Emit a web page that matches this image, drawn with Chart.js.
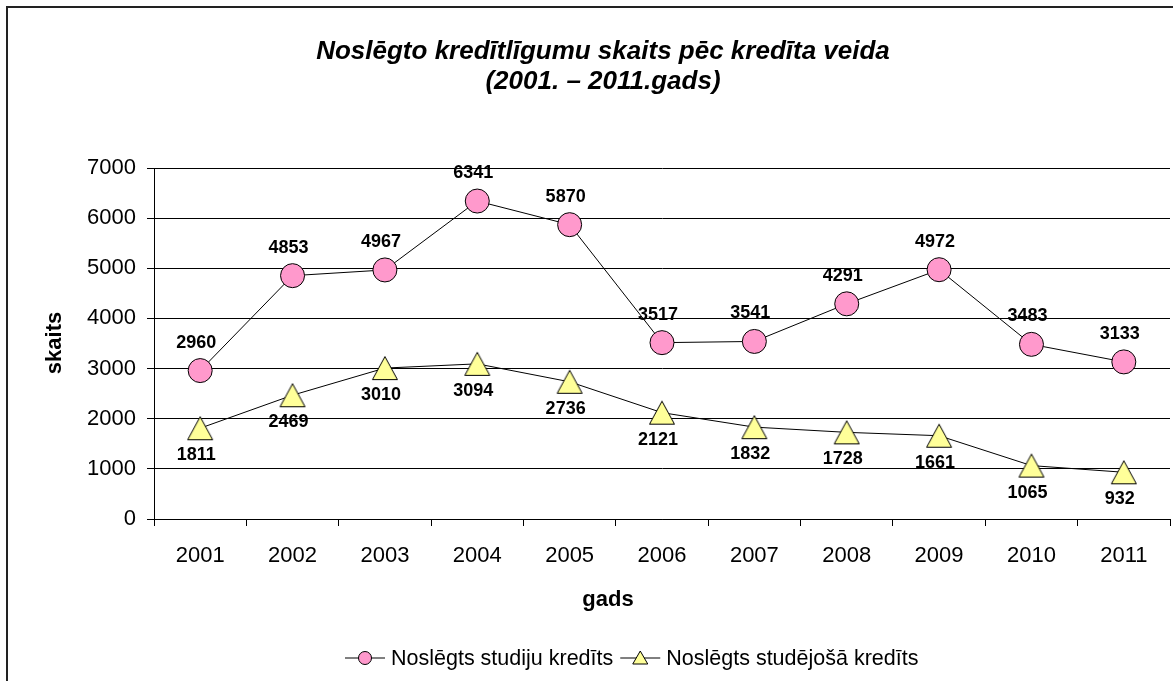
<!DOCTYPE html>
<html>
<head>
<meta charset="utf-8">
<script src="https://cdn.jsdelivr.net/npm/chart.js@4.4.1/dist/chart.umd.min.js"></script>
<style>
html,body{margin:0;padding:0;background:#fff;overflow:hidden}
#wrap{width:1173px;height:681px;position:relative}
</style>
</head>
<body>
<div id="wrap"><canvas id="c" width="1173" height="681"></canvas></div>
<script>
// ---- data ----
const years = ['2001','2002','2003','2004','2005','2006','2007','2008','2009','2010','2011'];
const studijuKredits = [2960, 4853, 4967, 6341, 5870, 3517, 3541, 4291, 4972, 3483, 3133];
const studejosaKredits = [1811, 2469, 3010, 3094, 2736, 2121, 1832, 1728, 1661, 1065, 932];
const yTickValues = [0, 1000, 2000, 3000, 4000, 5000, 6000, 7000];
const seriesNames = ['Noslēgts studiju kredīts', 'Noslēgts studējošā kredīts'];
const titleLines = ['Noslēgto kredītlīgumu skaits pēc kredīta veida', '(2001. – 2011.gads)'];
const xTitle = 'gads';
const yTitle = 'skaits';

// ---- styles ----
const FONT = "'Liberation Sans', Arial, Helvetica, sans-serif";
const PINK = '#FF99CC';
const YELLOW = '#FFFF99';

function makeTriangle(w, h) {
  const pad = 1.5;
  const c = document.createElement('canvas');
  c.width = Math.ceil(w + 2 * pad);
  c.height = Math.ceil(h + 2 * pad);
  const g = c.getContext('2d');
  g.beginPath();
  g.moveTo(c.width / 2, pad);
  g.lineTo(c.width - pad, c.height - pad);
  g.lineTo(pad, c.height - pad);
  g.closePath();
  g.fillStyle = YELLOW;
  g.fill();
  g.strokeStyle = '#000';
  g.lineWidth = 1;
  g.stroke();
  return c;
}
const bigTriangle = makeTriangle(25, 23);

const decorations = {
  id: 'decorations',
  beforeDraw(chart) {
    const ctx = chart.ctx;
    ctx.save();
    ctx.fillStyle = '#fff';
    ctx.fillRect(0, 0, chart.width, chart.height);
    ctx.strokeStyle = '#222';
    ctx.lineWidth = 2;
    ctx.beginPath();
    ctx.moveTo(7, chart.height + 5);
    ctx.lineTo(7, 7);
    ctx.lineTo(chart.width + 5, 7);
    ctx.stroke();
    ctx.restore();
  },
  afterDraw(chart) {
    const ctx = chart.ctx;
    ctx.save();
    ctx.fillStyle = '#000';
    ctx.font = "italic bold 26px " + FONT;
    ctx.textAlign = 'center';
    ctx.textBaseline = 'middle';
    ctx.fillText(titleLines[0], 603, 52);
    ctx.fillText(titleLines[1], 603, 82);
    ctx.font = "bold 22px " + FONT;
    ctx.fillText(xTitle, 608, 600);
    ctx.save();
    ctx.translate(55, 343);
    ctx.rotate(-Math.PI / 2);
    ctx.fillText(yTitle, 0, 0);
    ctx.restore();
    // legend
    const ly = 658;
    ctx.strokeStyle = '#000';
    ctx.lineWidth = 1;
    ctx.font = "21.5px " + FONT;
    ctx.textAlign = 'left';
    const x1 = 345;
    ctx.beginPath(); ctx.moveTo(x1, ly); ctx.lineTo(x1 + 40, ly); ctx.stroke();
    ctx.beginPath(); ctx.arc(x1 + 20, ly, 6.5, 0, Math.PI * 2);
    ctx.fillStyle = PINK; ctx.fill(); ctx.stroke();
    ctx.fillStyle = '#000';
    ctx.fillText(seriesNames[0], x1 + 46, ly + 1);
    const x2 = x1 + 46 + ctx.measureText(seriesNames[0]).width + 7;
    ctx.beginPath(); ctx.moveTo(x2, ly); ctx.lineTo(x2 + 40, ly); ctx.stroke();
    const tcx = x2 + 20;
    ctx.beginPath();
    ctx.moveTo(tcx, ly - 7); ctx.lineTo(tcx + 7.5, ly + 6); ctx.lineTo(tcx - 7.5, ly + 6); ctx.closePath();
    ctx.fillStyle = YELLOW; ctx.fill(); ctx.stroke();
    ctx.fillStyle = '#000';
    ctx.fillText(seriesNames[1], x2 + 46, ly + 1);
    ctx.restore();
  }
};

const dataLabels = {
  id: 'dataLabels',
  afterDatasetsDraw(chart) {
    const ctx = chart.ctx;
    const offsets = [-28, 27];
    ctx.save();
    ctx.font = "bold 18px " + FONT;
    ctx.fillStyle = '#000';
    ctx.textAlign = 'center';
    ctx.textBaseline = 'middle';
    chart.data.datasets.forEach((ds, di) => {
      const meta = chart.getDatasetMeta(di);
      meta.data.forEach((pt, i) => {
        ctx.fillText(String(ds.data[i]), pt.x - 4, pt.y + offsets[di]);
      });
    });
    ctx.restore();
  }
};

new Chart(document.getElementById('c'), {
  type: 'line',
  data: {
    labels: years,
    datasets: [
      {
        label: seriesNames[0],
        data: studijuKredits,
        borderColor: '#000',
        borderWidth: 1,
        pointStyle: 'circle',
        pointRadius: 12,
        pointBackgroundColor: PINK,
        pointBorderColor: '#000',
        pointBorderWidth: 1,
        tension: 0,
        fill: false,
        clip: false
      },
      {
        label: seriesNames[1],
        data: studejosaKredits,
        borderColor: '#000',
        borderWidth: 1,
        pointStyle: bigTriangle,
        pointRadius: 12,
        tension: 0,
        fill: false,
        clip: false
      }
    ]
  },
  options: {
    responsive: false,
    animation: false,
    devicePixelRatio: 1,
    events: [],
    layout: { autoPadding: false, padding: { left: 0, right: 3, top: 168, bottom: 0 } },
    plugins: {
      legend: { display: false },
      title: { display: false },
      tooltip: { enabled: false }
    },
    scales: {
      x: {
        type: 'category',
        offset: true,
        grid: { display: true, drawOnChartArea: false, drawTicks: true, tickLength: 7, color: '#000', offset: true },
        border: { display: true, color: '#000', width: 1 },
        ticks: { color: '#000', font: { family: FONT, size: 22 }, padding: 17, maxRotation: 0, autoSkip: false },
        afterFit(s) { s.height = 162; s.paddingLeft = 0; s.paddingRight = 0; }
      },
      y: {
        min: 0,
        max: 7000,
        afterBuildTicks(s) { s.ticks = yTickValues.map(v => ({ value: v })); },
        ticks: { color: '#000', font: { family: FONT, size: 22 }, padding: 11, callback: v => String(v) },
        grid: { color: '#000', lineWidth: 1, tickLength: 7 },
        border: { display: true, color: '#000', width: 1 },
        afterFit(s) { s.width = 154; }
      }
    }
  },
  plugins: [decorations, dataLabels]
});
</script>
</body>
</html>
